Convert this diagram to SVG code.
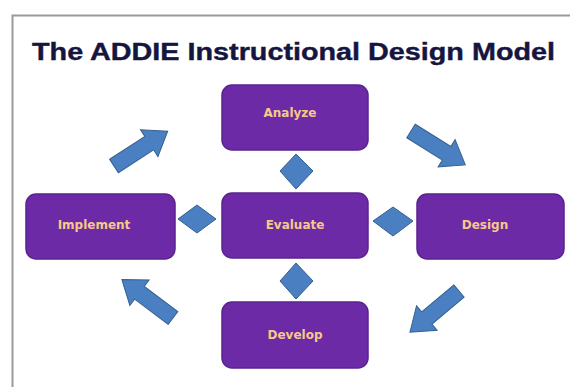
<svg xmlns="http://www.w3.org/2000/svg" width="570" height="387" viewBox="0 0 570 387">
  <style>
    .box { fill: #6d2aa6; stroke: #5a2290; stroke-width: 1.5; }
    .lbl { font-family: "DejaVu Sans", Verdana, sans-serif; font-weight: bold; font-size: 12px; fill: #f6c987; text-anchor: middle; dominant-baseline: central; }
    .blue { fill: #4a80c2; stroke: #35608f; stroke-width: 1; }
    .title { font-family: "Liberation Sans", Arial, sans-serif; font-weight: bold; font-size: 24px; fill: #15153f; stroke: #15153f; stroke-width: 0.4; }
  </style>
  <defs>
    <path id="arr" d="M0,-8 L42,-8 L42,-16 L64,0 L42,16 L42,8 L0,8 Z"/>
  </defs>
  <rect x="0" y="0" width="570" height="387" fill="#ffffff"/>
  <path d="M12.5,387 L12.5,15.5 L570,15.5" fill="none" stroke="#9a9a9a" stroke-width="2"/>
  <text class="title" x="32" y="60" textLength="523" lengthAdjust="spacingAndGlyphs">The ADDIE Instructional Design Model</text>

  <g id="connectors">
    <use href="#arr" class="blue" transform="translate(114,166) rotate(-33)"/>
    <use href="#arr" class="blue" transform="translate(411,131) rotate(32)"/>
    <use href="#arr" class="blue" transform="translate(173,318) rotate(-143)"/>
    <use href="#arr" class="blue" transform="translate(459,291) rotate(140)"/>
    <polygon class="blue" points="296,154 313,171 296,189 280,171"/>
    <polygon class="blue" points="296,263 313,281 296,299 280,281"/>
    <polygon class="blue" points="197,205 216,219 197,233 178,219"/>
    <polygon class="blue" points="393,207 413,221 393,236 373,221"/>
  </g>

  <g id="analyze">
    <rect class="box" x="222" y="85" width="146" height="65" rx="10"/>
    <text class="lbl" x="290" y="113">Analyze</text>
  </g>
  <g id="evaluate">
    <rect class="box" x="222" y="193" width="146" height="65" rx="10"/>
    <text class="lbl" x="295" y="225">Evaluate</text>
  </g>
  <g id="implement">
    <rect class="box" x="26" y="194" width="149" height="65" rx="10"/>
    <text class="lbl" x="94" y="225">Implement</text>
  </g>
  <g id="design">
    <rect class="box" x="417" y="194" width="147" height="65" rx="10"/>
    <text class="lbl" x="485" y="225">Design</text>
  </g>
  <g id="develop">
    <rect class="box" x="222" y="302" width="146" height="66" rx="10"/>
    <text class="lbl" x="295" y="335">Develop</text>
  </g>
</svg>
